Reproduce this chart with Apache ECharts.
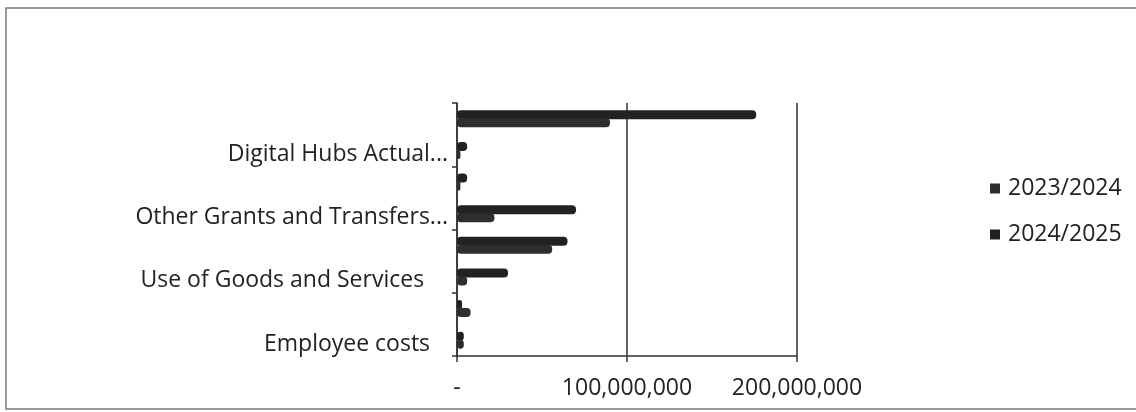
<!DOCTYPE html>
<html>
<head>
<meta charset="utf-8">
<script src="https://cdn.jsdelivr.net/npm/echarts@6/dist/echarts.min.js"></script>
<style>
html,body{margin:0;padding:0;background:#fff;}
#chart{width:1136px;height:412px;}
</style>
</head>
<body>
<div id="chart"></div>
<script>
// Categories, bottom to top (only every other label is shown in the reference)
var categories = [
  "Employee costs",
  "Subsidies",
  "Use of Goods and Services",
  "Current Transfers to Govt. Agencies",
  "Other Grants and Transfers and Payments",
  "Acquisition of Non-Financial Assets",
  "Digital Hubs Actual Expenditure",
  "Total Expenditure"
];
var seriesNames = ["2023/2024", "2024/2025"];
var values2023 = [4000000, 8000000, 6000000, 56000000, 22000000, 2000000, 2000000, 90000000];
var values2024 = [4000000, 3000000, 30000000, 65000000, 70000000, 6000000, 6000000, 176000000];
var xTicks = [0, 100000000, 200000000];

var chart = echarts.init(document.getElementById('chart'));
function fmt(v){
  if (v === 0) return '-';
  return String(v).replace(/\B(?=(\d{3})+(?!\d))/g, ',');
}
var shortLabels = {
  "Digital Hubs Actual Expenditure": "Digital Hubs Actual...",
  "Other Grants and Transfers and Payments": "Other Grants and Transfers...",
  "Use of Goods and Services": "Use of Goods and Services    ",
  "Employee costs": "Employee costs   "
};
var fontFam = "'Open Sans', 'Liberation Sans', sans-serif";
chart.setOption({
  backgroundColor: '#ffffff',
  animation: false,
  graphic: [{
    type: 'rect',
    shape: {x: 6, y: 8, width: 1140, height: 401},
    style: {fill: 'none', stroke: '#7a7a7a', lineWidth: 1.5},
    silent: true
  }],
  legend: {
    orient: 'vertical',
    left: 985,
    top: 172,
    itemWidth: 10,
    itemHeight: 10,
    itemGap: 23,
    icon: 'rect',
    data: seriesNames,
    textStyle: {fontFamily: fontFam, fontSize: 23, color: '#222', padding: [0, 0, 0, 3]}
  },
  grid: {left: 457, right: 339, top: 103, bottom: 56, containLabel: false},
  xAxis: {
    type: 'value',
    min: xTicks[0],
    max: xTicks[2],
    interval: 100000000,
    axisLine: {show: true, lineStyle: {color: '#333', width: 1.5}},
    axisTick: {show: true, length: 6, lineStyle: {color: '#333', width: 1.5}},
    splitLine: {show: true, lineStyle: {color: '#333', width: 1.5}},
    axisLabel: {
      formatter: fmt,
      margin: 21,
      fontFamily: fontFam, fontSize: 23, color: '#222'
    }
  },
  yAxis: {
    type: 'category',
    data: categories,
    axisLine: {show: true, lineStyle: {color: '#333', width: 1.5}},
    axisTick: {show: true, length: 5, lineStyle: {color: '#333', width: 1.5}},
    axisLabel: {
      interval: 1,
      margin: 9,
      verticalAlign: 'top',
      lineHeight: 8,
      fontFamily: fontFam, fontSize: 23, color: '#222',
      formatter: function(v){ return shortLabels[v] || v; }
    }
  },
  series: [{
    name: seriesNames[1],
    type: 'bar',
    data: values2024,
    barWidth: 9,
    barGap: '-10%',
    itemStyle: {color: '#222222', borderRadius: 4}
  }, {
    name: seriesNames[0],
    type: 'bar',
    data: values2023,
    barWidth: 9,
    barGap: '-10%',
    itemStyle: {color: '#2e2e2e', borderRadius: 4}
  }]
});
</script>
</body>
</html>
